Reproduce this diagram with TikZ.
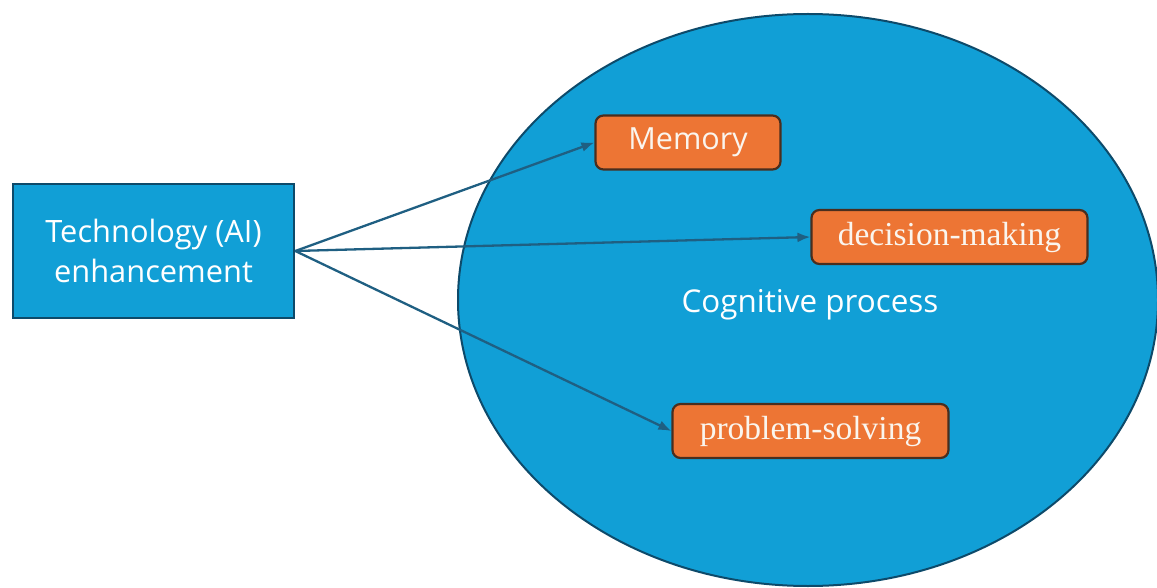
\documentclass[tikz,border=0pt]{standalone}
\usepackage{fontspec}
\setmainfont{Liberation Serif}
\newfontfamily\opensans{Open Sans}
\usetikzlibrary{shapes.geometric,arrows.meta}
\definecolor{cblue}{HTML}{119FD6}
\definecolor{cborder}{HTML}{0D4A6A}
\definecolor{corange}{HTML}{ED7534}
\definecolor{obrd}{HTML}{4A2E1E}
\definecolor{carrow}{HTML}{1F5F82}
\definecolor{owhite}{HTML}{FAF5EE}
\tikzset{
  techbox/.style={draw=cborder, line width=2.6pt, fill=cblue, minimum width=281pt, minimum height=134pt, inner sep=0pt, align=center, text=white, font=\opensans\fontsize{30.8}{40}\selectfont},
  obox/.style={draw=obrd, line width=2.2pt, fill=corange, rounded corners=8pt, inner sep=0pt, text=owhite},
  conn/.style={draw=carrow, line width=2.3pt, -{Latex[length=13pt,width=10pt]}}
}
\begin{document}
\begin{tikzpicture}[x=1pt,y=-1pt]
\useasboundingbox (0,0) rectangle (1157,588);
\clip (0,0) rectangle (1157,588);
\node[ellipse, draw=cborder, line width=2pt, fill=cblue, minimum width=700pt, minimum height=572pt, inner sep=0pt] (cog) at (808,300) {};
\node[text=white, font=\opensans\fontsize{31.4}{36}\selectfont] (cogl) at (810,305) {Cognitive process};
\node[techbox] (tech) at (153.5,251) {Technology (AI)\\enhancement};
\node[obox, minimum width=185pt, minimum height=54pt, font=\opensans\fontsize{30.5}{36}\selectfont] (mem) at (688,142.5) {Memory};
\node[obox, minimum width=276pt, minimum height=54pt, font=\fontsize{33.5}{40}\selectfont] (dm) at (949.5,237) {decision-making};
\node[obox, minimum width=276pt, minimum height=54pt, font=\fontsize{33.5}{40}\selectfont] (ps) at (810.5,431) {problem-solving};
\draw[conn] (tech.east) -- (mem.west);
\draw[conn] (tech.east) -- (dm.west);
\draw[conn] (tech.east) -- (ps.west);
\end{tikzpicture}
\end{document}
